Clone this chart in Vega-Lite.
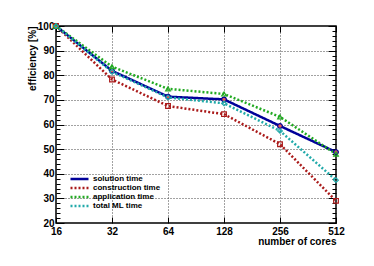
{
  "$schema": "https://vega.github.io/schema/vega-lite/v6.json",
  "autosize": {"type": "none"},
  "width": 280,
  "height": 197,
  "padding": {"left": 56, "top": 26, "right": 38, "bottom": 43},
  "background": "white",
  "config": {
    "view": {"stroke": "black", "strokeWidth": 1.5},
    "font": "Liberation Sans",
    "axis": {"labelFont": "Liberation Sans", "labelFontWeight": "bold", "labelFontSize": 10, "labelColor": "black",
             "titleFont": "Liberation Sans", "titleFontWeight": "bold", "titleFontSize": 10, "titleColor": "black",
             "tickColor": "black", "domain": false}
  },
  "data": {"values": [
    {"cores": 16, "eff": 100, "series": "solution time"},
    {"cores": 32, "eff": 81.8, "series": "solution time"},
    {"cores": 64, "eff": 71.3, "series": "solution time"},
    {"cores": 128, "eff": 70.2, "series": "solution time"},
    {"cores": 256, "eff": 59.4, "series": "solution time"},
    {"cores": 512, "eff": 48.8, "series": "solution time"},
    {"cores": 16, "eff": 100, "series": "construction time"},
    {"cores": 32, "eff": 78.3, "series": "construction time"},
    {"cores": 64, "eff": 67.5, "series": "construction time"},
    {"cores": 128, "eff": 64.2, "series": "construction time"},
    {"cores": 256, "eff": 52.0, "series": "construction time"},
    {"cores": 512, "eff": 29.0, "series": "construction time"},
    {"cores": 16, "eff": 100, "series": "application time"},
    {"cores": 32, "eff": 83.5, "series": "application time"},
    {"cores": 64, "eff": 74.5, "series": "application time"},
    {"cores": 128, "eff": 72.4, "series": "application time"},
    {"cores": 256, "eff": 63.1, "series": "application time"},
    {"cores": 512, "eff": 48.0, "series": "application time"},
    {"cores": 16, "eff": 100, "series": "total ML time"},
    {"cores": 32, "eff": 81.4, "series": "total ML time"},
    {"cores": 64, "eff": 71.0, "series": "total ML time"},
    {"cores": 128, "eff": 68.6, "series": "total ML time"},
    {"cores": 256, "eff": 57.4, "series": "total ML time"},
    {"cores": 512, "eff": 37.4, "series": "total ML time"}
  ]},
  "layer": [
    {
      "mark": {"type": "line", "strokeWidth": 2.5},
      "encoding": {
        "x": {"field": "cores", "type": "quantitative",
              "scale": {"type": "log", "base": 2, "domain": [16, 512], "nice": false},
              "axis": {"orient": "bottom", "values": [16, 32, 64, 128, 256, 512], "labelExpr": "datum.value",
                       "title": "number of cores", "titleAnchor": "end", "titlePadding": 0,
                       "tickSize": -6, "labelPadding": 9, "labelFlush": false,
                       "grid": true, "gridDash": [1, 2], "gridColor": "#444",
                       "gridOpacity": {"condition": {"test": "datum.value > 16 && datum.value < 512", "value": 1}, "value": 0}}},
        "y": {"field": "eff", "type": "quantitative",
              "scale": {"domain": [20, 100], "nice": false, "zero": false},
              "axis": {"orient": "left", "values": [20,22,24,26,28,30,32,34,36,38,40,42,44,46,48,50,52,54,56,58,60,62,64,66,68,70,72,74,76,78,80,82,84,86,88,90,92,94,96,98,100],
                       "labelExpr": "datum.value % 10 === 0 ? datum.value : ''",
                       "title": "efficiency  [%]", "titleAnchor": "end", "titlePadding": 0,
                       "tickSize": {"condition": {"test": "datum.value % 10 === 0", "value": -8}, "value": -4},
                       "labelPadding": 10, "labelFlush": false,
                       "grid": true, "gridDash": [1, 2], "gridColor": "#444",
                       "gridOpacity": {"condition": {"test": "datum.value % 10 === 0 && datum.value > 20 && datum.value < 100", "value": 1}, "value": 0}}},
        "color": {"field": "series", "type": "nominal",
                  "scale": {"domain": ["solution time", "construction time", "application time", "total ML time"],
                            "range": ["#000099", "#aa1a1a", "#22aa22", "#22aaaa"]},
                  "legend": {"orient": "none", "legendX": 13, "legendY": 148.5, "title": null,
                             "labelFont": "Liberation Sans", "labelFontWeight": "bold", "labelFontSize": 8, "labelColor": "black",
                             "symbolType": "stroke", "symbolSize": 324, "symbolStrokeWidth": 2.5, "rowPadding": 0,
                             "clipHeight": 9, "labelOffset": 3, "padding": 0}},
        "strokeDash": {"field": "series", "type": "nominal",
                       "scale": {"domain": ["solution time", "construction time", "application time", "total ML time"],
                                 "range": [[1, 0], [2, 2], [2, 2], [2, 2]]}}
      }
    },
    {
      "mark": {"type": "point", "size": 22, "strokeWidth": 1.2, "opacity": 1},
      "encoding": {
        "x": {"field": "cores", "type": "quantitative",
              "scale": {"type": "log", "base": 2, "domain": [16, 512], "nice": false},
              "axis": {"orient": "top", "values": [16, 32, 64, 128, 256, 512], "labels": false, "title": null, "tickSize": -6, "grid": false}},
        "y": {"field": "eff", "type": "quantitative",
              "scale": {"domain": [20, 100], "nice": false, "zero": false},
              "axis": {"orient": "right", "values": [20,22,24,26,28,30,32,34,36,38,40,42,44,46,48,50,52,54,56,58,60,62,64,66,68,70,72,74,76,78,80,82,84,86,88,90,92,94,96,98,100],
                       "labels": false, "title": null, "grid": false,
                       "tickSize": {"condition": {"test": "datum.value % 10 === 0", "value": -8}, "value": -4}}},
        "color": {"field": "series", "type": "nominal", "legend": null},
        "shape": {"field": "series", "type": "nominal",
                  "scale": {"domain": ["solution time", "construction time", "application time", "total ML time"],
                            "range": ["circle", "square", "triangle-up", "diamond"]},
                  "legend": null},
        "fillOpacity": {"condition": {"test": "datum.series === 'solution time'", "value": 1}, "value": 0},
        "fill": {"field": "series", "type": "nominal", "legend": null}
      }
    }
  ],
  "resolve": {"axis": {"x": "independent", "y": "independent"},
              "legend": {"color": "independent", "shape": "independent", "fill": "independent", "strokeDash": "independent"}}
}
